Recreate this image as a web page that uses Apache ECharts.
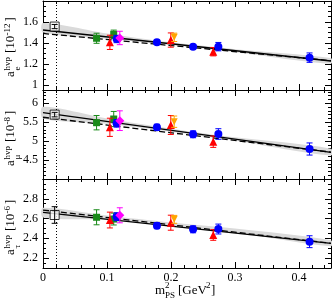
<!DOCTYPE html>
<html><head><meta charset="utf-8">
<script src="https://cdn.jsdelivr.net/npm/echarts@6/dist/echarts.min.js"></script>
<style>html,body{margin:0;padding:0;background:#fff}#c{width:332px;height:301px}</style>
</head><body><div id="c"></div>
<script>
// ---- data ----
const xPhys = 0.0182;
const xSquare = [0.0182];
const xGreen = [0.0837, 0.1105];
const xRed = [0.1045, 0.1997, 0.266];
const xBlue = [0.115, 0.178, 0.2345, 0.274, 0.4165];
const xMagenta = [0.120];
const xOrange = [0.205];

// panel 1: a_e^hvp [1e-12]
const aeSquare = [1.556], aeSquareErr = [0.02];
const aeGreen = [1.444, 1.482], aeGreenErr = [0.048, 0.04];
const aeRed = [1.405, 1.427, 1.316], aeRedErr = [0.068, 0.068, 0.04];
const aeBlue = [1.437, 1.405, 1.364, 1.364, 1.259], aeBlueErr = [0.035, 0.02, 0.02, 0.04, 0.045];
const aeMagenta = [1.447], aeMagentaErr = [0.064];
const aeOrange = [1.453], aeOrangeErr = [0.04];
const aeSolid = [1.523, 1.227];
const aeDashed = [1.49, 1.23];
const aeBandUpper = [1.59, 1.49, 1.405, 1.34, 1.255];
const aeBandLower = [1.50, 1.44, 1.38, 1.31, 1.20];

// panel 2: a_mu^hvp [1e-8]
const amSquare = [5.70], amSquareErr = [0.06];
const amGreen = [5.487, 5.584], amGreenErr = [0.19, 0.2];
const amRed = [5.365, 5.426, 4.985], amRedErr = [0.24, 0.25, 0.15];
const amBlue = [5.47, 5.365, 5.18, 5.188, 4.792], amBlueErr = [0.1, 0.08, 0.09, 0.14, 0.16];
const amMagenta = [5.54], amMagentaErr = [0.26];
const amOrange = [5.513], amOrangeErr = [0.15];
const amSolid = [5.75, 4.705];
const amDashed = [5.63, 4.71];
const amBandUpper = [5.91, 5.60, 5.33, 5.10, 4.80];
const amBandLower = [5.60, 5.46, 5.25, 5.01, 4.62];

// panel 3: a_tau^hvp [1e-6]
const atSquare = [2.636], atSquareErr = [0.084];
const atGreen = [2.613, 2.595], atGreenErr = [0.076, 0.06];
const atRed = [2.585, 2.558, 2.434], atRedErr = [0.08, 0.076, 0.054];
const atBlue = [2.619, 2.528, 2.491, 2.494, 2.366], atBlueErr = [0.04, 0.03, 0.035, 0.05, 0.06];
const atMagenta = [2.633], atMagentaErr = [0.076];
const atOrange = [2.592], atOrangeErr = [0.04];
const atSolid = [2.663, 2.35];
const atDashed = [2.686, 2.35];
const atBandUpper = [2.71, 2.63, 2.56, 2.50, 2.38];
const atBandLower = [2.61, 2.59, 2.53, 2.46, 2.32];

const lineX = [0, 0.45];
const bandX = [0, 0.1, 0.2, 0.3, 0.45];

// axes ticks / labels
const xMajor = [0, 0.1, 0.2, 0.3, 0.4];
const xMinor = [0.02,0.04,0.06,0.08,0.12,0.14,0.16,0.18,0.22,0.24,0.26,0.28,0.32,0.34,0.36,0.38,0.42,0.44];
const xLabels = [0, 0.1, 0.2, 0.3, 0.4];

const yRange = [[0.95, 1.8], [4.0, 6.35], [2.1, 3.0]];
const yMajor = [[1.0,1.2,1.4,1.6,1.8],[4.5,5,5.5,6],[2.2,2.4,2.6,2.8,3.0]];
const yMinor = [
  [0.95,1.05,1.1,1.15,1.25,1.3,1.35,1.45,1.5,1.55,1.65,1.7,1.75],
  [4.1,4.2,4.3,4.4,4.6,4.7,4.8,4.9,5.1,5.2,5.3,5.4,5.6,5.7,5.8,5.9,6.1,6.2,6.3],
  [2.15,2.25,2.3,2.35,2.45,2.5,2.55,2.65,2.7,2.75,2.85,2.9,2.95]
];
const yLabels = [[1,1.2,1.4,1.6],[4.5,5,5.5,6],[2.2,2.4,2.6,2.8]];

const panels = [
  {sq:aeSquare,sqE:aeSquareErr,g:aeGreen,gE:aeGreenErr,r:aeRed,rE:aeRedErr,b:aeBlue,bE:aeBlueErr,m:aeMagenta,mE:aeMagentaErr,o:aeOrange,oE:aeOrangeErr,solid:aeSolid,dashed:aeDashed,bu:aeBandUpper,bl:aeBandLower},
  {sq:amSquare,sqE:amSquareErr,g:amGreen,gE:amGreenErr,r:amRed,rE:amRedErr,b:amBlue,bE:amBlueErr,m:amMagenta,mE:amMagentaErr,o:amOrange,oE:amOrangeErr,solid:amSolid,dashed:amDashed,bu:amBandUpper,bl:amBandLower},
  {sq:atSquare,sqE:atSquareErr,g:atGreen,gE:atGreenErr,r:atRed,rE:atRedErr,b:atBlue,bE:atBlueErr,m:atMagenta,mE:atMagentaErr,o:atOrange,oE:atOrangeErr,solid:atSolid,dashed:atDashed,bu:atBandUpper,bl:atBandLower}
];

// ---- chart ----
const FONT = 'Liberation Serif';
const grids = [], xAxes = [], yAxes = [], series = [];
const top0 = 1, ph = 89;

function fmt(v){ return String(+(+v).toFixed(2)); }

panels.forEach((P, p) => {
  grids.push({left: 43, right: 1, top: top0 + p*ph, height: ph, containLabel: false});
  const xa = (pos, vals, len, line, lab) => ({
    type:'value', gridIndex:p, position:pos, min:0, max:0.45,
    axisLine:{show:line, onZero:false, lineStyle:{color:'#000', width:1}},
    axisTick:{show:true, inside:true, length:len, customValues:vals, lineStyle:{color:'#000', width:1}},
    axisLabel: lab ? {show:true, customValues:xLabels, formatter:v=>v===0?'0':(+v).toFixed(1), fontFamily:FONT, fontSize:12, color:'#000', margin:4} : {show:false},
    splitLine:{show:false}
  });
  xAxes.push(xa('bottom', xMajor, 6, true, p===2));
  xAxes.push(xa('bottom', xMinor, 3, false, false));
  xAxes.push(xa('top', xMajor, 6, true, false));
  xAxes.push(xa('top', xMinor, 3, false, false));
  const ya = (pos, vals, len, line, lab) => ({
    type:'value', gridIndex:p, position:pos, min:yRange[p][0], max:yRange[p][1],
    axisLine:{show:line, onZero:false, lineStyle:{color:'#000', width:1}},
    axisTick:{show:true, inside:true, length:len, customValues:vals, lineStyle:{color:'#000', width:1}},
    axisLabel: lab ? {show:true, customValues:yLabels[p], formatter:fmt, fontFamily:FONT, fontSize:12, color:'#000', margin:5} : {show:false},
    splitLine:{show:false}
  });
  yAxes.push(ya('left', yMajor[p], 6, true, true));
  yAxes.push(ya('left', yMinor[p], 3, false, false));
  yAxes.push(ya('right', yMajor[p], 6, true, false));
  yAxes.push(ya('right', yMinor[p], 3, false, false));

  const xi = 4*p, yi = 4*p;
  // band
  series.push({
    type:'custom', xAxisIndex:xi, yAxisIndex:yi, z:1, silent:true,
    data:[[0]],
    renderItem:(params, api) => {
      const pts = [];
      bandX.forEach((x,i)=>pts.push(api.coord([x, P.bu[i]])));
      for (let i=bandX.length-1;i>=0;i--) pts.push(api.coord([bandX[i], P.bl[i]]));
      return {type:'polygon', shape:{points:pts, smooth:0.3}, style:{fill:'#dadada', stroke:null}};
    }
  });
  // fit lines
  series.push({type:'line', xAxisIndex:xi, yAxisIndex:yi, z:2, symbol:'none', silent:true,
    data: lineX.map((x,i)=>[x, P.solid[i]]), lineStyle:{color:'#000', width:1.3},
    markLine:{silent:true, symbol:'none', label:{show:false}, lineStyle:{color:'#000', type:[1,2], width:1}, data:[{xAxis:xPhys}]}
  });
  series.push({type:'line', xAxisIndex:xi, yAxisIndex:yi, z:2, symbol:'none', silent:true,
    data: lineX.map((x,i)=>[x, P.dashed[i]]), lineStyle:{color:'#000', width:1.3, type:[6,3]}});

  const groups = [
    {x:xGreen, y:P.g, e:P.gE, color:'#1a8a1a', sym:'rect', size:7, rot:0},
    {x:xRed, y:P.r, e:P.rE, color:'#ff0000', sym:'triangle', size:8, rot:0},
    {x:xBlue, y:P.b, e:P.bE, color:'#0000ff', sym:'circle', size:8, rot:0},
    {x:xMagenta, y:P.m, e:P.mE, color:'#ff00ff', sym:'diamond', size:9, rot:0},
    {x:xOrange, y:P.o, e:P.oE, color:'#ffa500', sym:'triangle', size:7, rot:180},
    {x:xSquare, y:P.sq, e:P.sqE, color:'#000', sym:'rect', size:9, rot:0, open:true}
  ];
  groups.forEach((G, k) => {
    const bars = {
      type:'custom', xAxisIndex:xi, yAxisIndex:yi, z:3+k*2, silent:true,
      data: G.x.map((x,i)=>[x, G.y[i], G.e[i]]),
      renderItem:(params, api) => {
        const x = api.value(0), y = api.value(1), e = api.value(2);
        const a = api.coord([x, y-e]), b = api.coord([x, y+e]);
        const w = 3;
        const st = {stroke:G.color, lineWidth:1};
        return {type:'group', children:[
          {type:'line', shape:{x1:a[0], y1:a[1], x2:b[0], y2:b[1]}, style:st},
          {type:'line', shape:{x1:a[0]-w, y1:a[1], x2:a[0]+w, y2:a[1]}, style:st},
          {type:'line', shape:{x1:b[0]-w, y1:b[1], x2:b[0]+w, y2:b[1]}, style:st}
        ]};
      }
    };
    const marks = {
      type:'scatter', xAxisIndex:xi, yAxisIndex:yi, z:4+k*2, silent:true,
      symbol:G.sym, symbolSize:G.size, symbolRotate:G.rot,
      data: G.x.map((x,i)=>[x, G.y[i]]),
      itemStyle: G.open ? {color:'#fff', borderColor:'#000', borderWidth:1} : {color:G.color, opacity:1}
    };
    if (G.open) { marks.z = 3+k*2; bars.z = 4+k*2; }
    series.push(bars, marks);
  });
});

// axis titles as graphic text
const subs = ['e', 'μ', 'τ'];
const exps = ['-12', '-8', '-6'];
const graphic = [];
panels.forEach((P, p) => {
  const oy = top0 + p*ph + 76;
  graphic.push({
    type:'group', x:17, y:oy, rotation:Math.PI/2, silent:true,
    children:[
      {type:'text', x:0, y:0, style:{text:'a', font:'13px '+FONT, fill:'#000', textVerticalAlign:'bottom'}},
      {type:'text', x:6.5, y:-5, style:{text:'hvp', font:'9px '+FONT, fill:'#000', textVerticalAlign:'bottom'}},
      {type:'text', x:6.5, y:5, style:{text:subs[p], font:'9px '+FONT, fill:'#000', textVerticalAlign:'bottom'}},
      {type:'text', x:24, y:0, style:{text:'[10', font:'13px '+FONT, fill:'#000', textVerticalAlign:'bottom'}},
      {type:'text', x:41.5, y:-5, style:{text:exps[p], font:'9px '+FONT, fill:'#000', textVerticalAlign:'bottom'}},
      {type:'text', x:41.5 + (p===0?14:9.5), y:0, style:{text:']', font:'13px '+FONT, fill:'#000', textVerticalAlign:'bottom'}}
    ]
  });
});
// x title
graphic.push({type:'group', x:155, y:297, silent:true, children:[
  {type:'text', x:0, y:0, style:{text:'m', font:'13px '+FONT, fill:'#000', textVerticalAlign:'bottom'}},
  {type:'text', x:10, y:-7, style:{text:'2', font:'9px '+FONT, fill:'#000', textVerticalAlign:'bottom'}},
  {type:'text', x:10, y:3, style:{text:'PS', font:'9px '+FONT, fill:'#000', textVerticalAlign:'bottom'}},
  {type:'text', x:23, y:0, style:{text:'[GeV', font:'13px '+FONT, fill:'#000', textVerticalAlign:'bottom'}},
  {type:'text', x:51, y:-7, style:{text:'2', font:'9px '+FONT, fill:'#000', textVerticalAlign:'bottom'}},
  {type:'text', x:56, y:0, style:{text:']', font:'13px '+FONT, fill:'#000', textVerticalAlign:'bottom'}}
]});

const chart = echarts.init(document.getElementById('c'), null, {renderer:'canvas'});
chart.setOption({
  animation:false,
  backgroundColor:'#fff',
  grid:grids, xAxis:xAxes, yAxis:yAxes, series:series, graphic:graphic
});
</script></body></html>
